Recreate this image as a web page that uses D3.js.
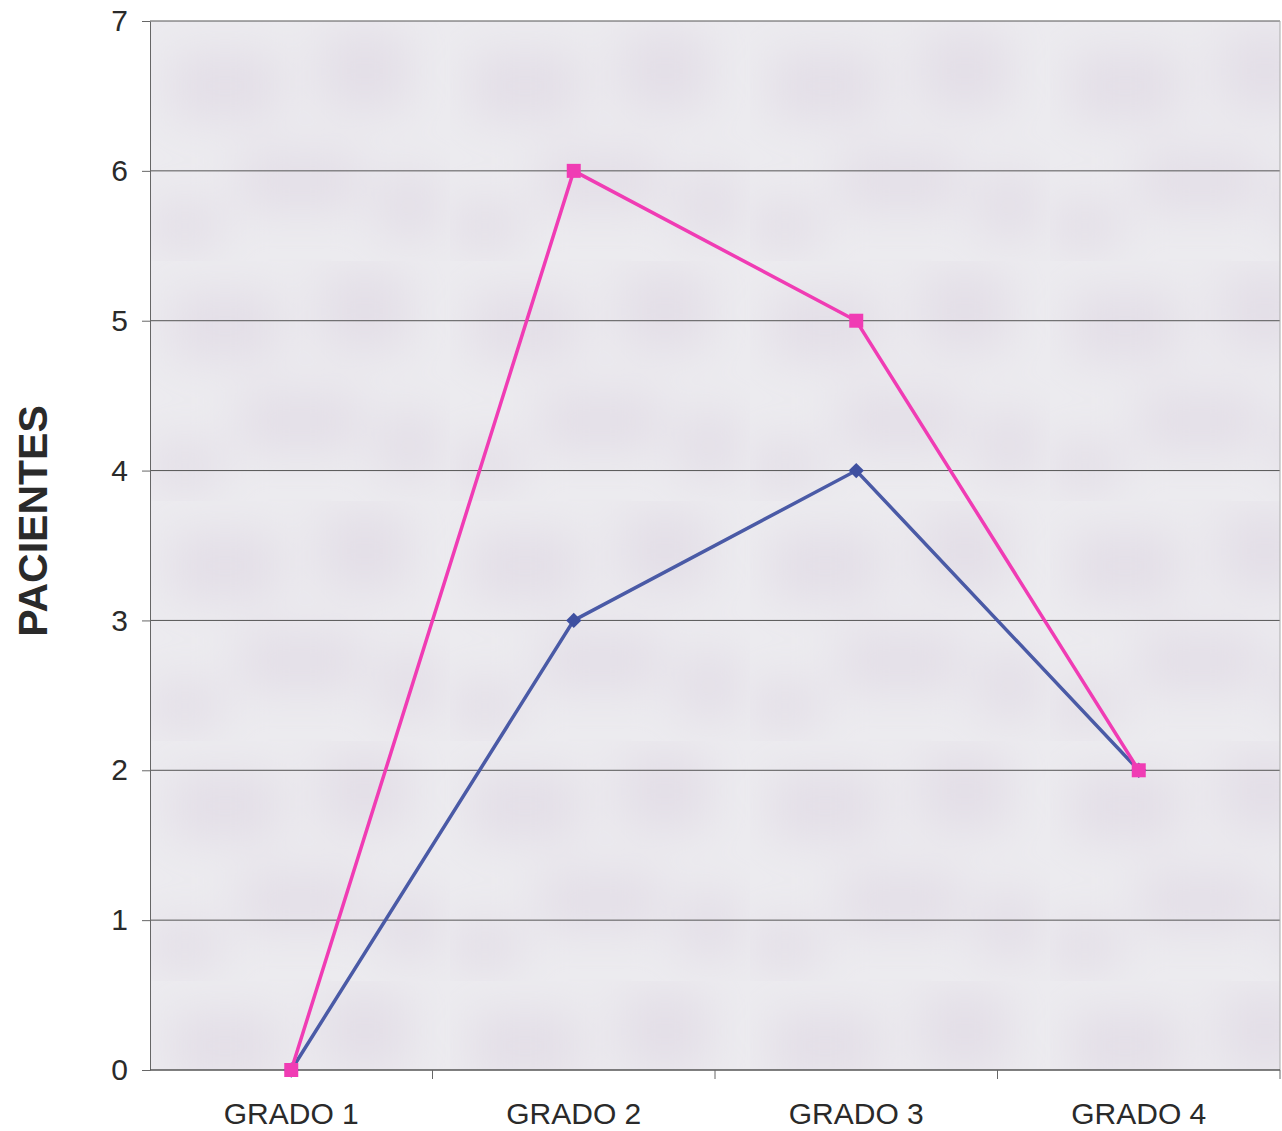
<!DOCTYPE html>
<html>
<head>
<meta charset="utf-8">
<script src="https://cdn.jsdelivr.net/npm/d3@7"></script>
<style>
  html, body { margin: 0; padding: 0; background: #ffffff; }
  svg { display: block; }
</style>
</head>
<body>
<svg id="chart" width="1282" height="1131"></svg>
<script>
// Categories and series values
const categories = ["GRADO 1", "GRADO 2", "GRADO 3", "GRADO 4"];
const seriesBlue = [0, 3, 4, 2];
const seriesPink = [0, 6, 5, 2];
const yTicks = [0, 1, 2, 3, 4, 5, 6, 7];
const yTitle = "PACIENTES";

const svg = d3.select("#chart");
const margin = { left: 150, right: 2, top: 21, bottom: 61 };
const W = 1282, H = 1131;
const iw = W - margin.left - margin.right;
const ih = H - margin.top - margin.bottom;
const FONT = "Liberation Sans, Arial, sans-serif";

const x = d3.scaleBand().domain(categories).range([0, iw]).padding(0);
const y = d3.scaleLinear().domain([0, 7]).range([ih, 0]);

const defs = svg.append("defs");
// Soft mottled fill for the plot area
const blur = defs.append("filter").attr("id", "soft").attr("x", "-30%").attr("y", "-30%").attr("width", "160%").attr("height", "160%");
blur.append("feGaussianBlur").attr("stdDeviation", 22);
const pat = defs.append("pattern").attr("id", "mottle").attr("patternUnits", "userSpaceOnUse")
  .attr("width", 300).attr("height", 240);
pat.append("rect").attr("width", 300).attr("height", 240).attr("fill", "#ecebef");
const blobs = pat.append("g").attr("filter", "url(#soft)");
[[20, 30, 110, 70], [170, 10, 90, 80], [90, 130, 120, 60], [230, 150, 60, 70], [0, 180, 70, 50]].forEach(b => {
  blobs.append("rect").attr("x", b[0]).attr("y", b[1]).attr("width", b[2]).attr("height", b[3])
    .attr("fill", "#dcd6e2").attr("opacity", 0.55);
});

const g = svg.append("g").attr("transform", `translate(${margin.left},${margin.top})`);

g.append("rect").attr("width", iw).attr("height", ih).attr("fill", "url(#mottle)");

// Horizontal grid lines
g.append("g").selectAll("line").data(yTicks.filter(d => d > 0)).join("line")
  .attr("x1", 0).attr("x2", iw)
  .attr("y1", d => y(d)).attr("y2", d => y(d))
  .attr("stroke", "#555").attr("stroke-width", 1);

// Right border of the plot area
g.append("line").attr("x1", iw).attr("x2", iw).attr("y1", 0).attr("y2", ih)
  .attr("stroke", "#aaa").attr("stroke-width", 1);

// Y axis
const yAxis = g.append("g")
  .call(d3.axisLeft(y).tickValues(yTicks).tickFormat(d3.format("d")).tickSize(8).tickSizeOuter(0));
yAxis.select(".domain").attr("stroke", "#666");
yAxis.selectAll(".tick line").attr("stroke", "#666");
yAxis.selectAll(".tick text")
  .attr("x", -22)
  .attr("font-family", FONT)
  .attr("font-size", 30).attr("fill", "#2a2a2a");

// X axis with ticks at category boundaries
const xAxis = g.append("g").attr("transform", `translate(0,${ih})`);
xAxis.append("line").attr("x1", 0).attr("x2", iw).attr("stroke", "#555").attr("stroke-width", 1.5);
xAxis.selectAll("line.tk").data(categories.slice(1).concat(["__end"])).join("line").attr("class", "tk")
  .attr("x1", d => d === "__end" ? iw : x(d)).attr("x2", d => d === "__end" ? iw : x(d))
  .attr("y1", 0).attr("y2", 9).attr("stroke", "#666");
xAxis.selectAll("text").data(categories).join("text")
  .attr("x", d => x(d) + x.bandwidth() / 2)
  .attr("y", 54)
  .attr("text-anchor", "middle")
  .attr("font-family", FONT)
  .attr("font-size", 30).attr("fill", "#2a2a2a")
  .text(d => d);

// Y axis title
svg.append("text")
  .attr("transform", `translate(47,521) rotate(-90)`)
  .attr("text-anchor", "middle")
  .attr("font-family", FONT)
  .attr("font-weight", "bold")
  .attr("font-size", 41).attr("fill", "#2a2a2a")
  .text(yTitle);

const line = d3.line().x((d, i) => x(categories[i]) + x.bandwidth() / 2).y(d => y(d));

// Blue series with diamond markers
g.append("path").datum(seriesBlue).attr("d", line)
  .attr("fill", "none").attr("stroke", "#4a5aa6").attr("stroke-width", 3.5);
g.append("g").selectAll("path").data(seriesBlue).join("path")
  .attr("transform", (d, i) => `translate(${x(categories[i]) + x.bandwidth() / 2},${y(d)})`)
  .attr("d", d3.symbol(d3.symbolDiamond2, 150)())
  .attr("fill", "#3f50a0");

// Pink series with square markers
g.append("path").datum(seriesPink).attr("d", line)
  .attr("fill", "none").attr("stroke", "#f03cb4").attr("stroke-width", 3.5);
g.append("g").selectAll("rect").data(seriesPink).join("rect")
  .attr("x", (d, i) => x(categories[i]) + x.bandwidth() / 2 - 7)
  .attr("y", d => y(d) - 7)
  .attr("width", 14).attr("height", 14)
  .attr("fill", "#f03cb4");
</script>
</body>
</html>
